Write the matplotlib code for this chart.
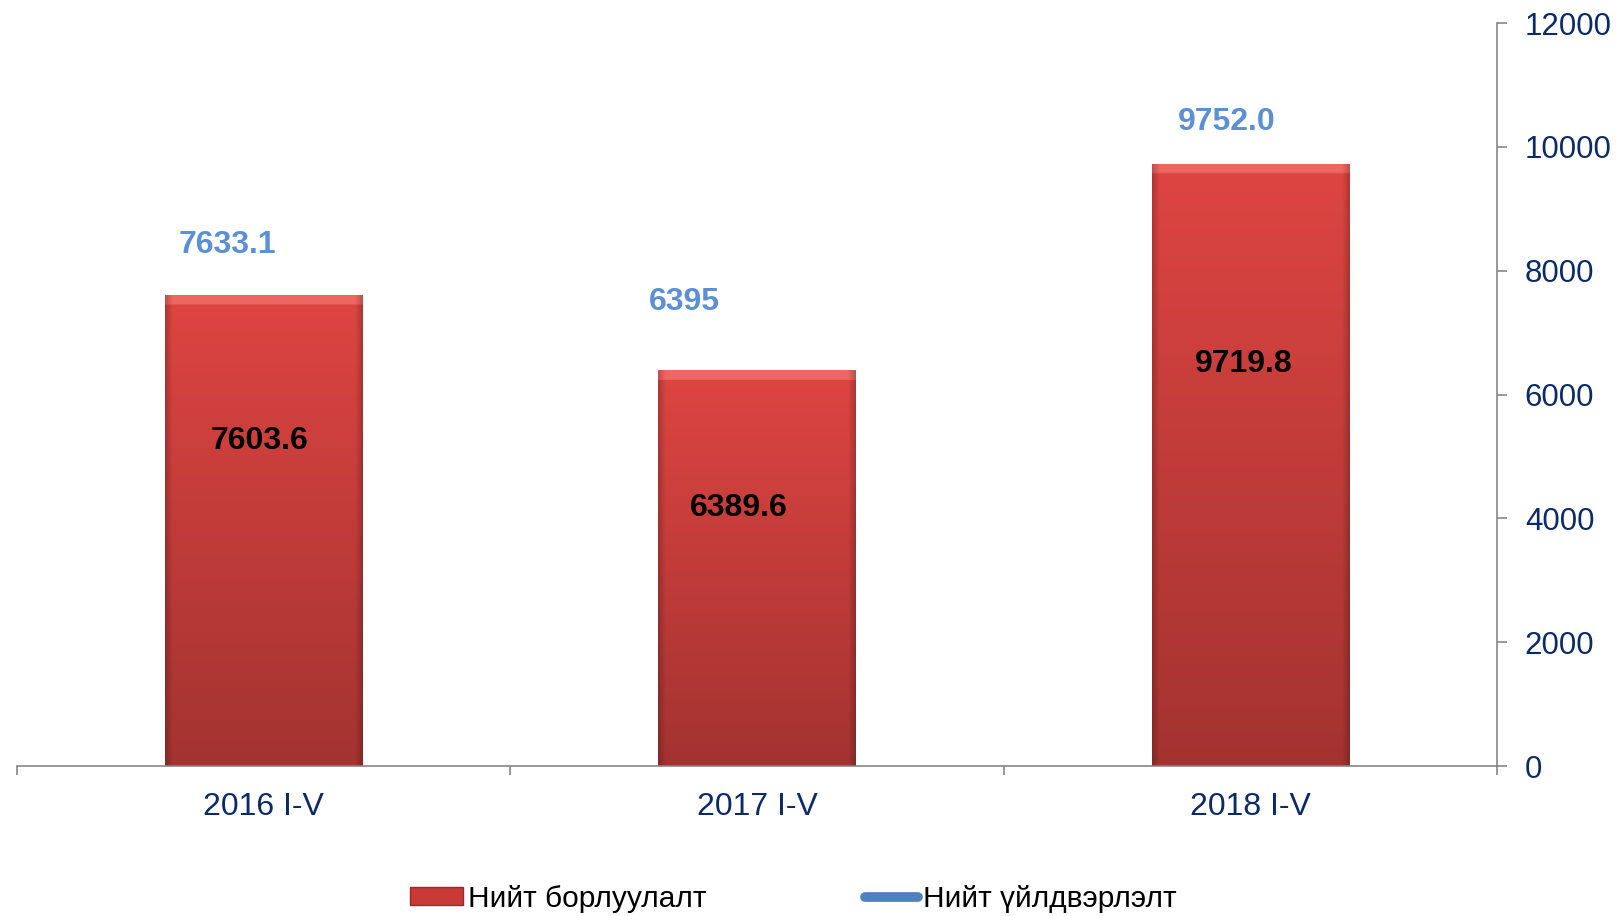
import numpy as np
import matplotlib
matplotlib.use("Agg")
import matplotlib.pyplot as plt
from matplotlib.lines import Line2D
from matplotlib.patches import Patch

# ---- data ----
categories = ["2016 I-V", "2017 I-V", "2018 I-V"]
sales = [7603.6, 6389.6, 9719.8]
sales_labels = ["7603.6", "6389.6", "9719.8"]
production = [7633.1, 6395.0, 9752.0]
production_labels = ["7633.1", "6395", "9752.0"]
yticks = [0, 2000, 4000, 6000, 8000, 10000, 12000]
legend_labels = ["Нийт борлуулалт", "Нийт үйлдвэрлэлт"]

# ---- label placement (offsets in points) ----
prod_offsets = [(-26, 35), (-52, 49), (-17, 29)]
sales_offsets = [(-3, -105), (-13, -99), (-5, -144)]

plt.rcParams['font.family'] = ['Liberation Sans', 'DejaVu Sans']
NAVY = '#0B2A6A'
GREY = '#868686'
BLUE_TXT = '#5B8FD6'
LINE_BLUE = '#4F81BD'

W, H = 1622, 916
fig = plt.figure(figsize=(W / 100, H / 100), dpi=100)
ax = fig.add_axes([17 / W, 1 - 766 / H, (1497 - 17) / W, (766 - 23) / H])

x = np.arange(len(categories))
bars = ax.bar(x, sales, width=0.4, color='none', edgecolor='none', zorder=2)

top_col = np.array([0.87, 0.27, 0.26])
bot_col = np.array([0.64, 0.20, 0.19])
bevel_col = np.array([0.93, 0.40, 0.38])
px_per_unit = 743 / 12000.0
for rect in bars:
    x0 = rect.get_x(); w = rect.get_width(); h = rect.get_height()
    ny, nx = 400, 120
    t = np.linspace(0, 1, ny)[:, None, None]
    img = bot_col + (top_col - bot_col) * t
    img = np.repeat(img, nx, axis=1)
    u = np.linspace(0, 1, nx)
    edge = np.ones(nx)
    e = 0.035
    edge[u < e] = 0.80 + 0.20 * (u[u < e] / e)
    edge[u > 1 - e] = 0.80 + 0.20 * ((1 - u[u > 1 - e]) / e)
    img = img * edge[None, :, None]
    bar_px = h * px_per_unit
    bev = 9.0 / bar_px
    rows = t[:, 0, 0] > 1 - bev
    img[rows, :, :] = bevel_col * edge[None, :, None][0]
    img = np.clip(img, 0, 1)
    ax.imshow(img, extent=(x0, x0 + w, 0, h), origin='lower', aspect='auto',
              interpolation='bilinear', zorder=2)

# invisible production series (only labels shown)
ax.plot(x, production, color=LINE_BLUE, alpha=0, zorder=3)

for i, (v, lab) in enumerate(zip(sales, sales_labels)):
    ax.annotate(lab, xy=(x[i], v), xytext=sales_offsets[i], textcoords='offset points',
                ha='center', va='center', fontsize=23, fontweight='bold', color='black', zorder=4)
for i, (v, lab) in enumerate(zip(production, production_labels)):
    ax.annotate(lab, xy=(x[i], v), xytext=prod_offsets[i], textcoords='offset points',
                ha='center', va='center', fontsize=23, fontweight='bold', color=BLUE_TXT, zorder=4)

ax.set_xlim(-0.5, len(categories) - 0.5)
ax.set_ylim(0, 12000)

for s in ['left', 'top']:
    ax.spines[s].set_visible(False)
for s in ['right', 'bottom']:
    ax.spines[s].set_color(GREY)
    ax.spines[s].set_linewidth(1.2)

ax.yaxis.tick_right()
ax.set_yticks(yticks)
ax.set_yticklabels([str(v) for v in yticks])
ax.tick_params(axis='y', which='major', direction='out', length=7, width=1.2, color=GREY,
               labelsize=22.5, labelcolor=NAVY, pad=13)

ax.set_xticks(np.arange(-0.5, len(categories)))
ax.set_xticklabels([])
ax.tick_params(axis='x', which='major', direction='out', length=6.5, width=1.2, color=GREY)
ax.set_xticks(x, minor=True)
ax.set_xticklabels(categories, minor=True)
ax.tick_params(axis='x', which='minor', length=0, pad=19, labelsize=23, labelcolor=NAVY)
for lbl in ax.get_xticklabels(minor=True):
    lbl.set_x(lbl.get_position()[0])

handles = [Patch(facecolor='#C93A37', edgecolor='#9A2A28', linewidth=1.0),
           Line2D([0], [0], color=LINE_BLUE, linewidth=7, solid_capstyle='round')]
fig.legend(handles, legend_labels, loc='center', bbox_to_anchor=(793 / W, 1 - 899 / H),
           ncol=2, frameon=False, fontsize=21.5, handlelength=1.8, handleheight=0.55,
           handletextpad=0.15, columnspacing=5.3, labelcolor='black')

fig.savefig('out.png', dpi=100, facecolor='white')
